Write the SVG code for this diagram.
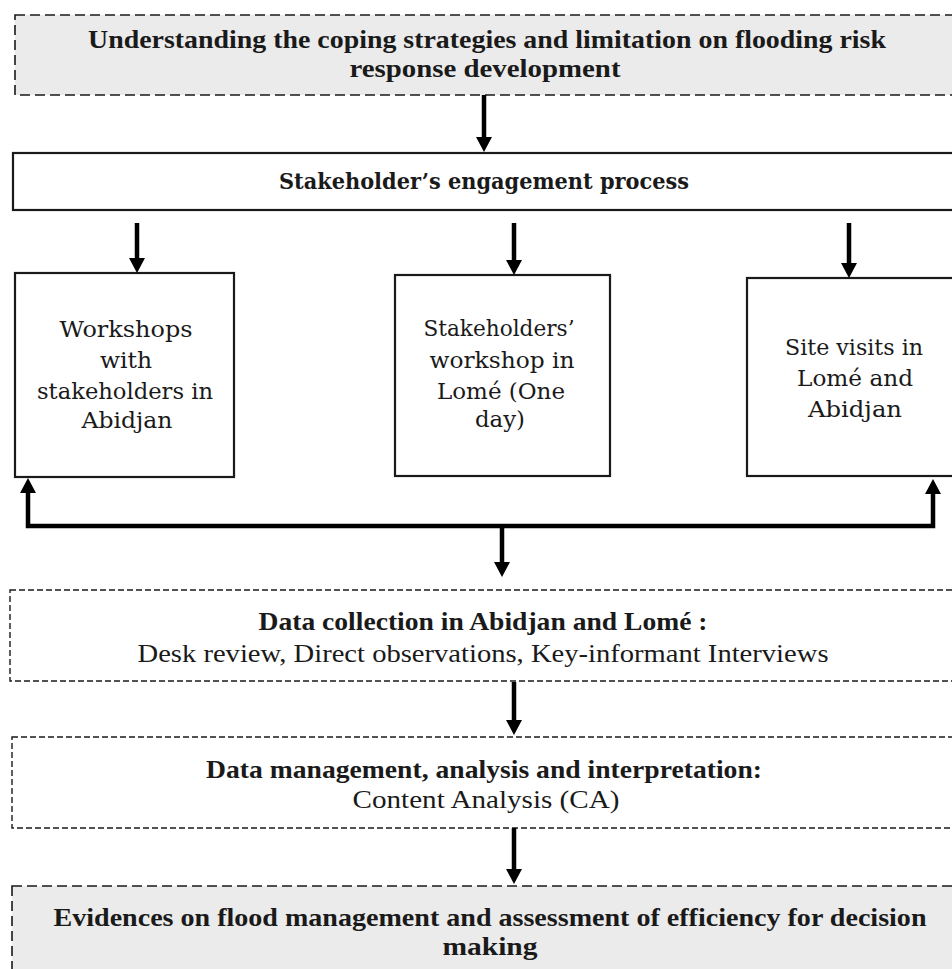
<svg xmlns="http://www.w3.org/2000/svg" width="952" height="969" viewBox="0 0 952 969">
<style>
.bg{fill:#ffffff}
.dashg{fill:#ebebeb;stroke:#1a1a1a;stroke-width:1.6;stroke-dasharray:10 5}
.dashw{fill:#ffffff;stroke:#1a1a1a;stroke-width:1.4;stroke-dasharray:6 3}
.solid{fill:#ffffff;stroke:#1a1a1a;stroke-width:2.2}
.cond{font-family:"Liberation Serif","Times New Roman",serif;font-size:26px;fill:#1a1a1a;text-anchor:middle}
.b{font-weight:bold}
.wide{font-family:"DejaVu Serif","Liberation Serif",serif;font-size:22px;fill:#1a1a1a;text-anchor:middle}
.conn{fill:none;stroke:#000;stroke-width:4.5}
</style>
<defs>
<marker id="ah" markerUnits="userSpaceOnUse" markerWidth="15" markerHeight="16" viewBox="0 0 15 16" refX="0" refY="8" orient="auto-start-reverse">
<path d="M0,0 L15,8 L0,16 Z" fill="#000"/>
</marker>
</defs>
<rect class="bg" x="0" y="0" width="952" height="969"/>

<g id="node-understanding">
<rect class="dashg" x="15" y="15" width="950" height="80"/>
<text class="cond b" x="487" y="48" textLength="798" lengthAdjust="spacingAndGlyphs">Understanding the coping strategies and limitation on flooding risk</text>
<text class="cond b" x="485" y="77" textLength="271" lengthAdjust="spacingAndGlyphs">response development</text>
</g>

<g id="node-engagement">
<rect class="solid" x="13" y="153" width="950" height="57"/>
<text class="wide b" x="484" y="189" font-size="21" textLength="410" lengthAdjust="spacingAndGlyphs">Stakeholder’s engagement process</text>
</g>

<g id="node-workshops-abidjan">
<rect class="solid" x="15" y="273" width="219" height="204"/>
<text class="wide" x="126" y="337" textLength="133" lengthAdjust="spacingAndGlyphs">Workshops</text>
<text class="wide" x="126" y="368" textLength="52" lengthAdjust="spacingAndGlyphs">with</text>
<text class="wide" x="125" y="399" textLength="176" lengthAdjust="spacingAndGlyphs">stakeholders in</text>
<text class="wide" x="127" y="428" textLength="91" lengthAdjust="spacingAndGlyphs">Abidjan</text>
</g>

<g id="node-workshop-lome">
<rect class="solid" x="395" y="275" width="215" height="201"/>
<text class="wide" x="499" y="336" textLength="151" lengthAdjust="spacingAndGlyphs">Stakeholders’</text>
<text class="wide" x="502" y="368" textLength="145" lengthAdjust="spacingAndGlyphs">workshop in</text>
<text class="wide" x="501" y="399" textLength="128" lengthAdjust="spacingAndGlyphs">Lomé (One</text>
<text class="wide" x="500" y="427" textLength="50" lengthAdjust="spacingAndGlyphs">day)</text>
</g>

<g id="node-site-visits">
<rect class="solid" x="747" y="278" width="215" height="198"/>
<text class="wide" x="854" y="355" textLength="138" lengthAdjust="spacingAndGlyphs">Site visits in</text>
<text class="wide" x="855" y="386" textLength="116" lengthAdjust="spacingAndGlyphs">Lomé and</text>
<text class="wide" x="855" y="417" textLength="94" lengthAdjust="spacingAndGlyphs">Abidjan</text>
</g>

<g id="node-data-collection">
<rect class="dashw" x="10" y="590" width="950" height="91"/>
<text class="cond b" x="483" y="630" textLength="449" lengthAdjust="spacingAndGlyphs">Data collection in Abidjan and Lomé :</text>
<text class="cond" x="483" y="662" textLength="691" lengthAdjust="spacingAndGlyphs">Desk review, Direct observations, Key-informant Interviews</text>
</g>

<g id="node-data-management">
<rect class="dashw" x="12" y="737" width="950" height="91"/>
<text class="cond b" x="484" y="778" textLength="556" lengthAdjust="spacingAndGlyphs">Data management, analysis and interpretation:</text>
<text class="cond" x="486" y="808" textLength="267" lengthAdjust="spacingAndGlyphs">Content Analysis (CA)</text>
</g>

<g id="node-evidences">
<rect class="dashg" x="12" y="886" width="950" height="90"/>
<text class="cond b" x="490" y="926" textLength="873" lengthAdjust="spacingAndGlyphs">Evidences on flood management and assessment of efficiency for decision</text>
<text class="cond b" x="490" y="955" textLength="95" lengthAdjust="spacingAndGlyphs">making</text>
</g>

<g id="connectors">
<line class="conn" x1="484" y1="95" x2="484" y2="137" marker-end="url(#ah)"/>
<line class="conn" x1="137" y1="223" x2="137" y2="258" marker-end="url(#ah)"/>
<line class="conn" x1="514" y1="223" x2="514" y2="260" marker-end="url(#ah)"/>
<line class="conn" x1="849" y1="223" x2="849" y2="263" marker-end="url(#ah)"/>
<path class="conn" d="M28,493 V526 H933 V494" marker-start="url(#ah)" marker-end="url(#ah)"/>
<line class="conn" x1="502" y1="526" x2="502" y2="562" marker-end="url(#ah)"/>
<line class="conn" x1="514" y1="682" x2="514" y2="720" marker-end="url(#ah)"/>
<line class="conn" x1="514" y1="828" x2="514" y2="869" marker-end="url(#ah)"/>
</g>
</svg>
